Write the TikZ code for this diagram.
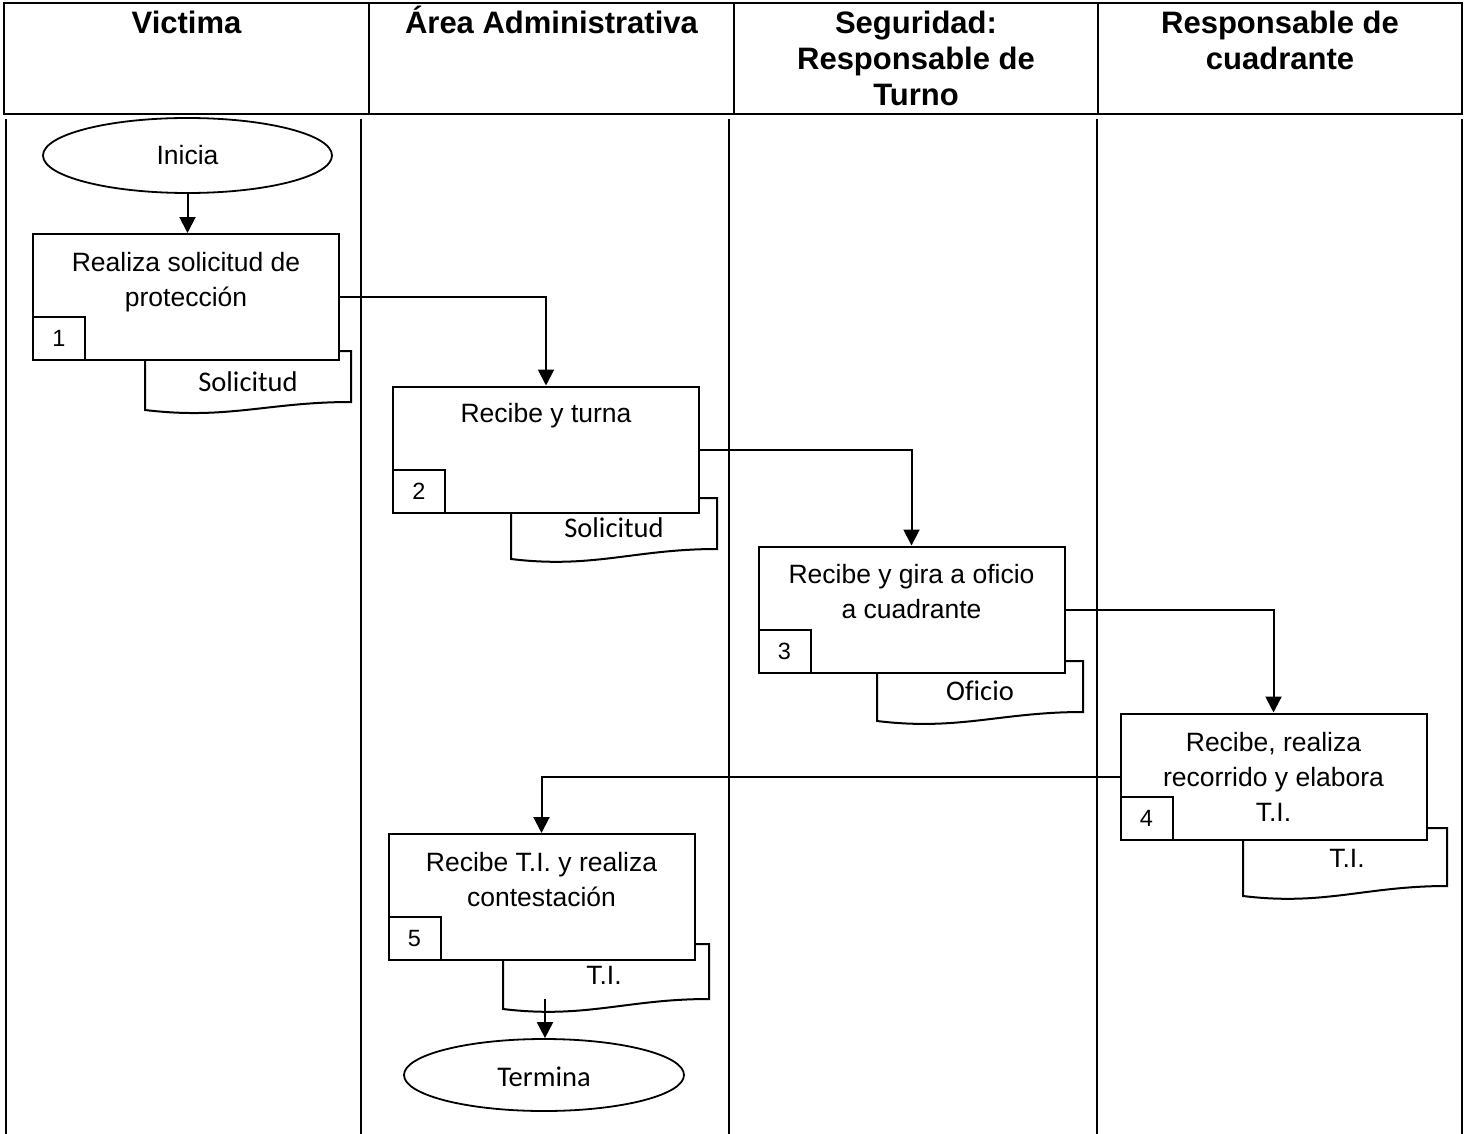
\documentclass[tikz,border=0pt]{standalone}
\usepackage{fontspec}
\setmainfont{Liberation Sans}[Ligatures=NoCommon]
\newfontfamily\calib{Carlito}[Ligatures=NoCommon]
\usetikzlibrary{shapes.geometric,arrows.meta}
\begin{document}
\begin{tikzpicture}[x=1pt,y=-1pt,
  hdr/.style={font=\fontsize{31}{36}\selectfont\bfseries, inner sep=0pt, anchor=base},
  lanes/.style={line width=2pt},
  proc/.style={draw, line width=2pt, fill=white, minimum width=306pt, minimum height=126pt, inner sep=0pt},
  numbox/.style={draw, line width=2pt, fill=white, minimum width=52pt, minimum height=43pt, inner sep=0pt, font=\fontsize{23.5}{26}\selectfont},
  ptxt/.style={font=\fontsize{26.5}{35}\selectfont, align=center, inner sep=0pt},
  docshape/.style={draw, line width=2pt, fill=white},
  dtxc/.style={font=\calib\fontsize{28.5}{34}\selectfont, inner sep=0pt},
  dtxa/.style={font=\fontsize{26.5}{34}\selectfont, inner sep=0pt},
  termshape/.style={draw, ellipse, line width=1.8pt, inner sep=0pt},
  arr/.style={line width=2pt, -{Triangle[length=16pt,width=16pt]}},
]
\useasboundingbox (0,0) rectangle (1466,1134);
% header
\draw[line width=2.8pt] (4,3) rectangle (1462,114);
\draw[line width=2.5pt] (369,3) -- (369,114) (734,3) -- (734,114) (1098,3) -- (1098,114);
\node[hdr] (h1) at (186.5,34) {Victima};
\node[hdr] (h2) at (551.5,34) {Área Administrativa};
\node[hdr] (h3a) at (916,34) {Seguridad:};
\node[hdr] (h3b) at (916,70) {Responsable de};
\node[hdr] (h3c) at (916,106) {Turno};
\node[hdr] (h4a) at (1280,34) {Responsable de};
\node[hdr] (h4b) at (1280,70) {cuadrante};
% lanes
\draw[lanes] (6,119) -- (6,1134) (361,119) -- (361,1134) (729,119) -- (729,1134) (1097,119) -- (1097,1134) (1462,119) -- (1462,1134);

% start
\node[termshape, minimum width=289pt, minimum height=75pt] (ini) at (187.5,155.5) {};
\node[ptxt] (initxt) at (187.5,155.5) {Inicia};

% step 1
\draw[docshape] (145,351) -- (351,351) -- (351,402) .. controls (268.6,402) and (227.4,420) .. (145,410) -- cycle;
\node[dtxc] (d1txt) at (248,382) {Solicitud};
\node[proc] (b1) at (186,297) {};
\node[numbox, anchor=south west] (n1) at (b1.south west) {1};
\node[ptxt] (t1) at (186,282) {Realiza solicitud de\\protección};

% step 2
\draw[docshape] (511,498) -- (717,498) -- (717,549) .. controls (634.6,549) and (593.4,569) .. (511,559) -- cycle;
\node[dtxc] (d2txt) at (614,528) {Solicitud};
\node[proc] (b2) at (546,449.5) {};
\node[numbox, anchor=south west] (n2) at (b2.south west) {2};
\node[ptxt] (t2) at (546,416) {Recibe y turna};

% step 3
\draw[docshape] (877,661) -- (1083,661) -- (1083,712) .. controls (1000.6,712) and (959.4,731) .. (877,721) -- cycle;
\node[dtxc] (d3txt) at (980,691) {Oficio};
\node[proc] (b3) at (911.5,609.5) {};
\node[numbox, anchor=south west] (n3) at (b3.south west) {3};
\node[ptxt] (t3) at (911.5,592) {Recibe y gira a oficio\\a cuadrante};

% step 4
\draw[docshape] (1243,828) -- (1447,828) -- (1447,886) .. controls (1365.4,886) and (1324.6,906) .. (1243,896) -- cycle;
\node[dtxa] (d4txt) at (1347,858) {T.I.};
\node[proc] (b4) at (1273.5,776.5) {};
\node[numbox, anchor=south west] (n4) at (b4.south west) {4};
\node[ptxt] (t4) at (1273.5,777) {Recibe, realiza\\recorrido y elabora\\T.I.};

% step 5
\draw[docshape] (503,944) -- (709,944) -- (709,999) .. controls (626.6,999) and (585.4,1019) .. (503,1009) -- cycle;
\node[dtxa] (d5txt) at (604,975) {T.I.};
\node[proc] (b5) at (541.5,897) {};
\node[numbox, anchor=south west] (n5) at (b5.south west) {5};
\node[ptxt] (t5) at (541.5,880) {Recibe T.I. y realiza\\contestación};
\coordinate (d5out) at (545,999);

% end
\node[termshape, minimum width=280pt, minimum height=72pt] (fin) at (544,1075) {};
\node[dtxc] (fintxt) at (544,1077) {Termina};

% connectors
\draw[arr] (ini.south) -- (ini.south |- b1.north);
\draw[arr] (b1.east) -| (b2.north);
\draw[arr] (b2.east) -| (b3.north);
\draw[arr] (b3.east) -| (b4.north);
\draw[arr] (b4.west) -| (b5.north);
\draw[arr] (d5out) -- (d5out |- fin.north);
\end{tikzpicture}
\end{document}
